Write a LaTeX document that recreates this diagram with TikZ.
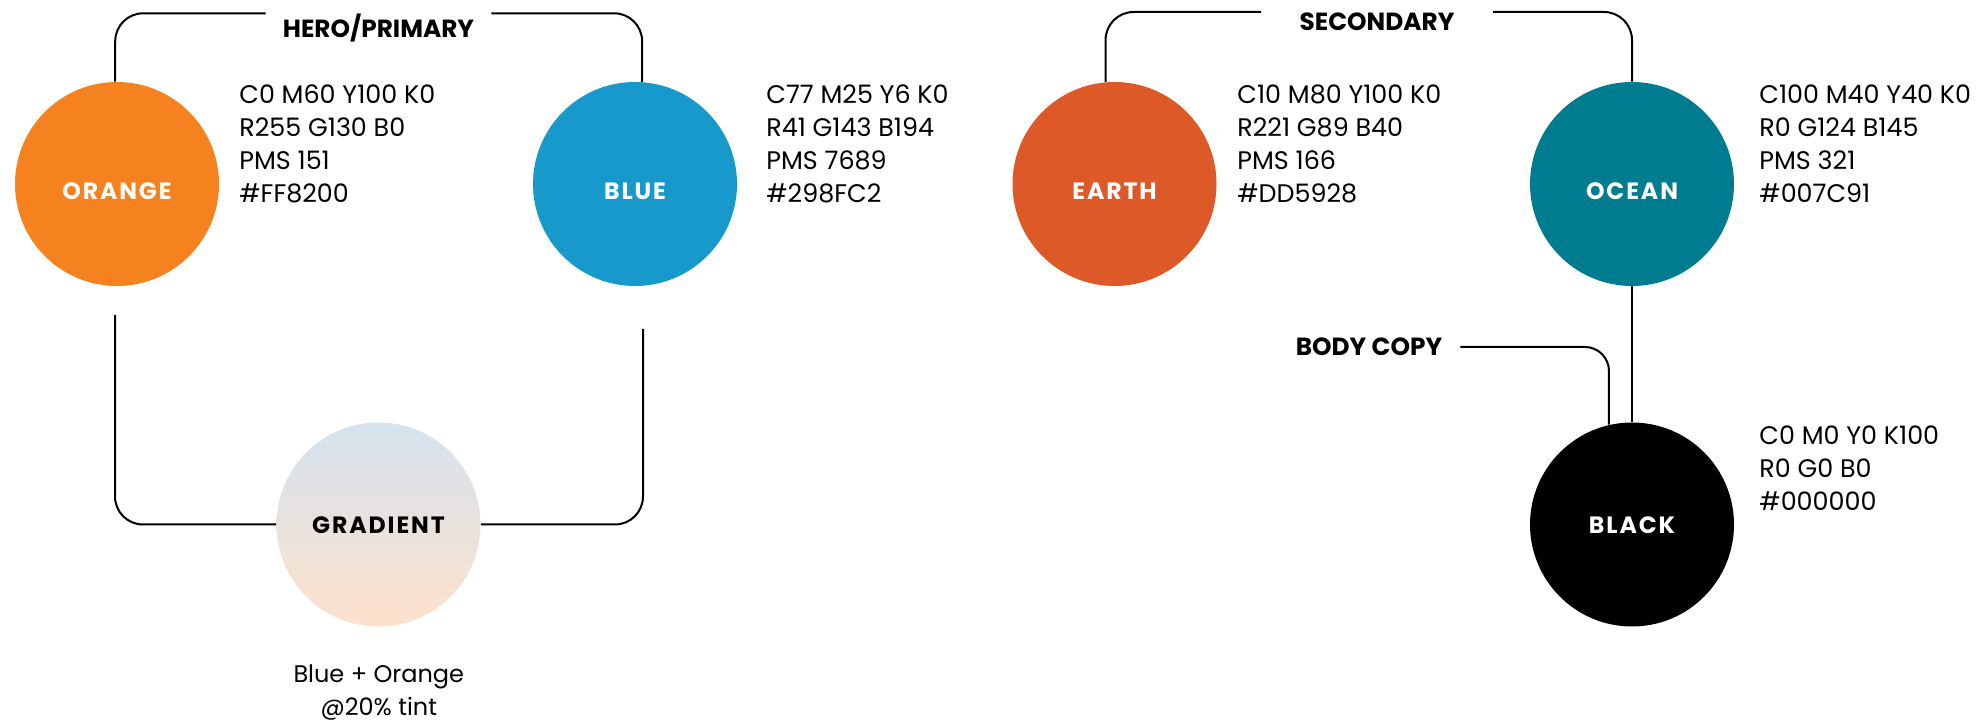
\documentclass[tikz,border=0pt]{standalone}
\usepackage{fontspec}
\setmainfont{Poppins}
\newfontfamily\spacedfont{Poppins}[LetterSpace=8]
\definecolor{orangeC}{HTML}{F5821F}
\definecolor{blueC}{HTML}{1899CC}
\definecolor{earthC}{HTML}{DD5928}
\definecolor{oceanC}{HTML}{007C91}
\definecolor{gradTop}{HTML}{D5E3EF}
\definecolor{gradBot}{HTML}{FDE1CB}
\begin{document}
\begin{tikzpicture}[
  x=0.5pt,y=-0.5pt,
  swatch/.style={circle,minimum size=102pt,inner sep=0pt,text=white,
    font=\spacedfont\bfseries\fontsize{11.8}{13}\selectfont,
    text height=9.4pt,text depth=0pt},
  lowered/.style={text height=15.3pt},
  info/.style={anchor=north west,inner sep=0pt,align=left,
    font=\fontsize{12.7}{16.5}\selectfont},
  title/.style={inner sep=0pt,font=\bfseries\fontsize{12.4}{14}\selectfont},
  link/.style={line width=1pt,rounded corners=14pt}
]
  \useasboundingbox (0,0) rectangle (1982,721);

  \node[swatch,lowered,fill=orangeC] (orange) at (117,184) {ORANGE};
  \node[swatch,lowered,fill=blueC] (blue) at (635,184) {BLUE};
  \node[swatch,lowered,fill=earthC] (earth) at (1114.5,184) {EARTH};
  \node[swatch,lowered,fill=oceanC] (ocean) at (1632,184) {OCEAN};
  \node[swatch,text=black,top color=gradTop,bottom color=gradBot]
    (gradient) at (378.5,524.5) {GRADIENT};
  \node[swatch,fill=black] (blackdot) at (1632,524.5) {BLACK};

  \node[info] (orangeinfo) at (239,84)
    {C0 M60 Y100 K0\\R255 G130 B0\\PMS 151\\\#FF8200};
  \node[info] (blueinfo) at (766,84)
    {C77 M25 Y6 K0\\R41 G143 B194\\PMS 7689\\\#298FC2};
  \node[info] (earthinfo) at (1237,84)
    {C10 M80 Y100 K0\\R221 G89 B40\\PMS 166\\\#DD5928};
  \node[info] (oceaninfo) at (1759,84)
    {C100 M40 Y40 K0\\R0 G124 B145\\PMS 321\\\#007C91};
  \node[info] (blackinfo) at (1759,425)
    {C0 M0 Y0 K100\\R0 G0 B0\\\#000000};
  \node[info,anchor=north,align=center,font=\fontsize{12}{16.8}\selectfont]
    (mixnote) at (378.8,664) {Blue + Orange\\@20\% tint};

  \node[title,anchor=north,minimum width=112.5pt] (hero) at (378.5,13.3) {HERO/PRIMARY};
  \node[title,anchor=north,minimum width=115.6pt] (second) at (1377,12) {SECONDARY};
  \node[title,minimum width=91pt] (body) at (1369,347) {BODY COPY};

  \draw[link] (orange.91) |- (hero.north west);
  \draw[link] (hero.north east) -| (blue.86);
  \draw[link] (earth.95) |- (second.north west);
  \draw[link] (second.north east) -| (ocean.north);
  \coordinate (orangetail) at (115,315);
  \coordinate (bluetail) at (643,329);
  \draw[link] (orangetail) |- (gradient.west);
  \draw[link] (bluetail) |- (gradient.east);
  \draw[link] (ocean.south) -- (blackdot.north);
  \draw[link,rounded corners=12pt] (body.east) -| (blackdot.103);
\end{tikzpicture}
\end{document}
